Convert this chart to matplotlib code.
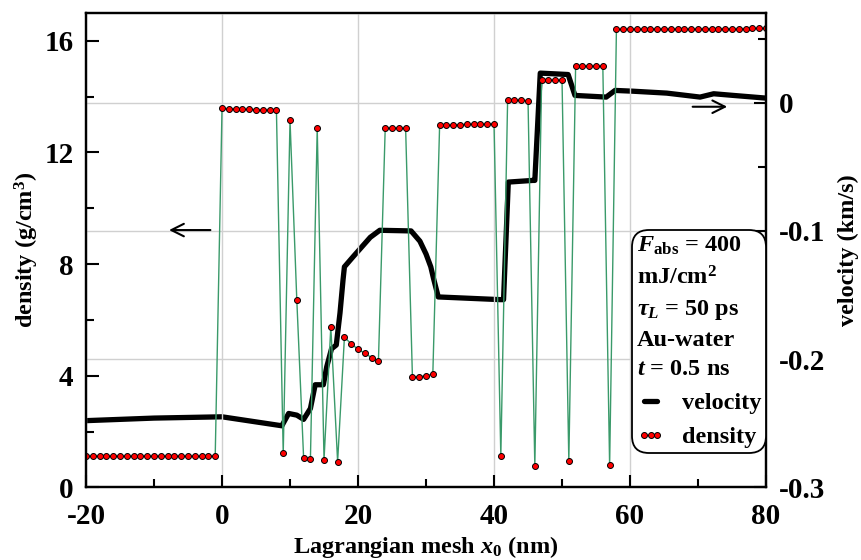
import numpy as np
import matplotlib
matplotlib.use("Agg")
import matplotlib.pyplot as plt
from matplotlib.ticker import MultipleLocator

plt.rcParams.update({
    "font.family": "serif",
    "font.serif": ["Liberation Serif", "DejaVu Serif"],
    "font.weight": "bold",
    "axes.labelweight": "bold",
    "axes.unicode_minus": False,
    "mathtext.fontset": "custom",
    "mathtext.rm": "Liberation Serif:bold",
    "mathtext.it": "Liberation Serif:italic:bold",
    "mathtext.bf": "Liberation Serif:bold",
})

# Lagrangian mesh positions (nm), one per cell
x_mesh = np.arange(-20, 81)

# density (g/cm^3) at each mesh cell
density = [
    1.12, 1.12, 1.12, 1.12, 1.12, 1.12, 1.12, 1.12, 1.12, 1.12,
    1.12, 1.12, 1.12, 1.12, 1.12, 1.12, 1.12, 1.12, 1.12, 1.12,
    13.58, 13.57, 13.56, 13.55, 13.55, 13.54, 13.53, 13.52, 13.52,
    1.22, 13.15, 6.70, 1.05, 1.01, 12.88, 0.99, 5.75, 0.92,
    5.38, 5.14, 4.95, 4.80, 4.65, 4.52,
    12.88, 12.88, 12.88, 12.87,
    3.96, 3.96, 4.00, 4.06,
    12.98, 12.97, 12.99, 13.00, 13.01, 13.01, 13.02, 13.02, 13.03,
    1.12,
    13.89, 13.88, 13.87, 13.86,
    0.76,
    14.60, 14.60, 14.60, 14.59,
    0.95,
    15.11, 15.11, 15.10, 15.10, 15.10,
    0.79,
    16.42, 16.43, 16.43, 16.42, 16.43, 16.43, 16.44, 16.43, 16.42, 16.43,
    16.43, 16.42, 16.43, 16.43, 16.44, 16.44, 16.43, 16.44, 16.44, 16.44,
    16.45, 16.45, 16.45,
]

# velocity (km/s) profile
vel_x = [-20, -10, 0, 8.8, 9.8, 11, 12, 13, 13.7, 14.9, 15.4, 16.1, 16.8,
         17.35, 17.8, 18, 19.3, 21.8, 23.2, 27.8, 29.1, 30.0, 30.7, 31.1,
         31.8, 40.9, 41.4, 42.1, 45.7, 46.0, 46.8, 50.9, 51.9, 56.5, 57.8,
         60.4, 65.4, 70.3, 72.3, 75.2, 80]
vel_v = [-0.248, -0.246, -0.245, -0.252, -0.2424, -0.2437, -0.247, -0.2385,
         -0.220, -0.220, -0.206, -0.192, -0.189, -0.164, -0.138, -0.128,
         -0.120, -0.105, -0.0995, -0.100, -0.108, -0.118, -0.128, -0.137,
         -0.1515, -0.1536, -0.1536, -0.0619, -0.0606, -0.0606, 0.0231, 0.022,
         0.0057, 0.0044, 0.0096, 0.009, 0.0075, 0.0044, 0.007, 0.0057, 0.0036]

legend_text = "\n".join([
    r"$F_{\rm abs}$ = 400",
    r"mJ/cm$^2$",
    r"$\tau_L$ = 50 ps",
    "Au-water",
    r"$t$ = 0.5 ns",
])

fig = plt.figure(figsize=(8.61, 5.60), dpi=100)
ax1 = fig.add_axes([0.0999, 0.1298, 0.7898, 0.8470])
ax2 = ax1.twinx()
ax1.set_zorder(2)
ax1.patch.set_visible(False)
ax2.set_zorder(1)

grid_kw = dict(color="#d0d0d0", linewidth=1.0)

vel_line, = ax2.plot(vel_x, vel_v, color="black", linewidth=3.8,
                     solid_joinstyle="round", solid_capstyle="round",
                     label="velocity")
dens_line, = ax1.plot(x_mesh, density, color="#3a9a6a", linewidth=1.0,
                      marker="o", markersize=4.3, markerfacecolor="red",
                      markeredgecolor="black", markeredgewidth=0.7,
                      label="density")

ax1.set_xlim(-20, 80)
ax1.set_ylim(0, 17)
ax2.set_ylim(-0.3, 0.07)

ax1.xaxis.set_major_locator(MultipleLocator(20))
ax1.xaxis.set_minor_locator(MultipleLocator(10))
ax1.yaxis.set_major_locator(MultipleLocator(4))
ax1.yaxis.set_minor_locator(MultipleLocator(2))
ax2.yaxis.set_major_locator(MultipleLocator(0.1))
ax2.yaxis.set_minor_locator(MultipleLocator(0.05))
ax2.yaxis.set_major_formatter(plt.FuncFormatter(
    lambda v, p: "0" if abs(v) < 1e-9 else f"{v:.1f}"))

ax1.xaxis.grid(True, **grid_kw)
ax2.yaxis.grid(True, **grid_kw)
ax1.set_axisbelow(True)

for ax in (ax1, ax2):
    ax.tick_params(which="both", direction="in", width=1.5, labelsize=21,
                   top=False)
    ax.tick_params(which="major", length=9, pad=9)
    ax.tick_params(which="minor", length=6)
    for s in ax.spines.values():
        s.set_linewidth(1.6)
ax1.tick_params(axis="x", which="major", pad=11)
ax1.tick_params(axis="y", which="both", right=False)
ax2.tick_params(axis="y", which="both", left=False, right=True)

ax1.set_xlabel(r"Lagrangian mesh $x_0$ (nm)", fontsize=17.5, labelpad=3)
ax1.set_ylabel(r"density (g/cm$^3$)", fontsize=17.5, labelpad=2)
ax2.set_ylabel("velocity (km/s)", fontsize=17.5, labelpad=9)

arrow_kw = dict(arrowstyle="->,head_length=0.9,head_width=0.45",
                color="black", lw=1.5)
ax1.annotate("", xy=(-8.2, 9.22), xytext=(-1.3, 9.22), arrowprops=arrow_kw)
ax1.annotate("", xy=(74.7, 13.64), xytext=(68.8, 13.64), arrowprops=arrow_kw)

leg = ax1.legend(handles=[vel_line, dens_line], labels=["velocity", "density"],
                 title=legend_text, alignment="left",
                 title_fontproperties={"weight": "bold", "size": 17.5},
                 prop={"weight": "bold", "size": 17.5},
                 loc="lower right", bbox_to_anchor=(1.0, 0.072),
                 borderaxespad=0, numpoints=3, handlelength=1.15,
                 markerscale=1.0, handletextpad=0.7, labelspacing=0.5,
                 borderpad=0.2, framealpha=1, edgecolor="black",
                 fancybox=True)
leg.get_frame().set_boxstyle("round,pad=0,rounding_size=0.7")
leg.get_frame().set_linewidth(1.3)
leg.get_title().set_linespacing(1.5)

fig.savefig("out.png", dpi=100)
